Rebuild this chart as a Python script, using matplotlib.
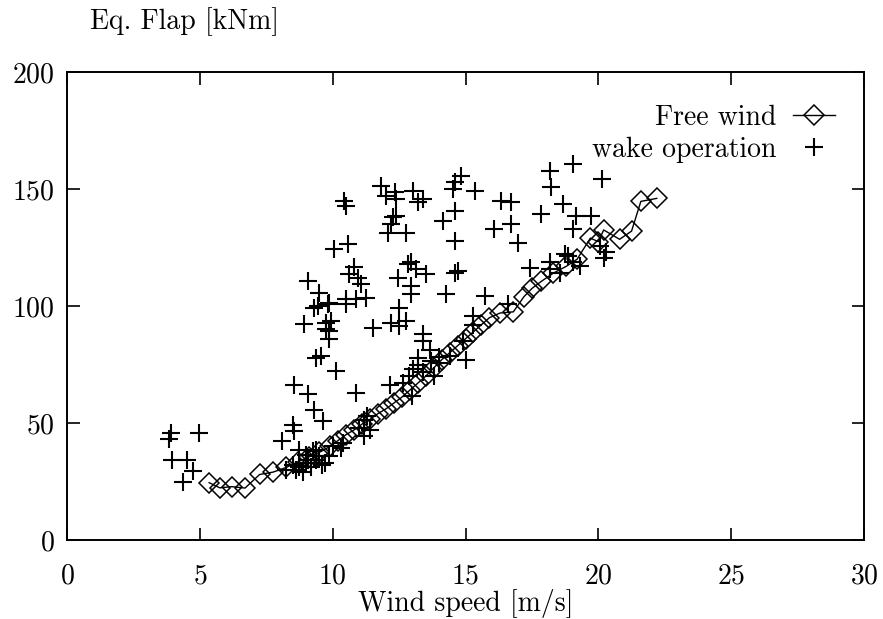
import matplotlib
matplotlib.use('Agg')
import matplotlib.pyplot as plt

plt.rcParams['font.family'] = ['cmr10', 'DejaVu Serif']
plt.rcParams['mathtext.fontset'] = 'cm'
plt.rcParams['axes.formatter.use_mathtext'] = True

# free wind curve
free_x = [5.35, 5.75, 6.2, 6.7, 7.25, 7.75, 8.25, 8.7, 9.1, 9.5, 9.9, 10.2,
          10.5, 10.8, 11.1, 11.4, 11.7, 12.0, 12.3, 12.6, 12.9, 13.2, 13.5,
          13.8, 14.1, 14.4, 14.7, 15.0, 15.3, 15.6, 15.9, 16.3, 16.8, 17.2,
          17.5, 17.85, 18.3, 18.8, 19.2, 19.7, 20.0, 20.2, 20.8, 21.25, 21.6, 22.2]
free_y = [24.5, 22.3, 22.8, 22.2, 28, 29, 31, 33.5, 35.5, 37.5, 40, 42.5,
          45, 47, 49.5, 51.5, 54, 56, 58.5, 61, 64, 67, 70,
          73.5, 77, 80, 83, 86, 89, 92, 95, 97, 97.5, 104,
          107.5, 110.5, 114, 117, 120, 129, 127.5, 132.5, 128.5, 132, 144.7, 146]

# wake operation points
wake_x = [3.9, 3.84, 4.98, 3.97, 4.53, 4.75, 4.35,
          8.11, 8.24, 8.49, 8.62, 8.74, 8.74, 9.0, 9.06, 9.0, 9.25, 9.37, 9.37,
          9.5, 9.88, 9.7, 10.0, 10.3, 10.38, 8.49, 8.56, 9.62, 9.31, 9.06, 8.56,
          8.9, 9.2, 9.6,
          9.06, 9.5, 9.43, 9.31, 9.81, 9.88, 10.5, 10.5, 10.88, 11.26, 8.93,
          9.75, 9.94, 9.75, 9.88, 9.88, 9.37, 9.56, 10.13, 10.06, 10.57, 10.44,
          10.5, 10.82, 10.63, 10.94, 11.07, 10.88,
          11.5, 12.2, 12.5, 12.77, 12.5, 12.45, 12.83, 12.95, 13.14, 13.52, 12.95,
          12.95, 14.27, 14.59, 14.71, 13.39, 13.39, 13.2, 13.7, 13.83, 12.14,
          13.0, 12.64, 12.89, 13.01, 13.65, 14.02, 14.4, 15.03,
          11.82, 12.01, 12.33, 12.39, 13.01, 13.39, 13.2, 14.84, 14.59, 14.52,
          15.34, 12.26, 12.39, 12.2, 12.07, 12.77, 14.59, 14.15, 14.59, 16.35,
          16.72, 16.09, 16.72, 16.97, 18.17, 19.05, 18.23, 20.12, 17.85, 18.67,
          19.17, 19.74, 19.05, 17.41, 15.72, 15.28, 16.6,
          11.19, 11.19, 11.0, 11.4, 11.3, 13.2, 13.4, 14.0, 14.9, 15.3,
          18.17, 18.54, 19.05, 19.3, 18.86, 18.17, 18.73, 20.05, 20.3, 20.2]
wake_y = [45.7, 43.2, 45.7, 34.3, 34.3, 29.3, 25,
          42.5, 30, 32.1, 30, 38.6, 31.4, 36.4, 34.3, 32.9, 37.9, 34.3, 38.6,
          35.7, 35.7, 33, 40, 39.3, 41.4, 49.3, 46.4, 50.7, 55.7, 62.5, 66.4,
          29, 31, 32,
          110.7, 105.7, 100, 99.3, 100.7, 101.4, 100.7, 102.9, 102.9, 103.6, 92.1,
          92.9, 93.6, 90, 89.3, 85.7, 77.9, 78.6, 72.1, 124.3, 126.4, 145,
          142.9, 116.8, 113.6, 112.1, 109.3, 62.9,
          90.7, 92.9, 91.4, 93.6, 99.3, 112.1, 117.9, 118.6, 115.7, 113.6, 108.6,
          105, 105, 114.3, 115, 87.9, 85, 77.9, 76.4, 70, 66.4,
          61.4, 67.1, 70, 72.9, 81.4, 75.7, 78.6, 77.1,
          151.4, 147.1, 148.6, 145.7, 149.3, 145.7, 144.3, 155.7, 152.9, 150,
          149.3, 137.9, 138.6, 135, 131.4, 131.4, 140.7, 136.4, 127.9, 145,
          144.3, 132.9, 135, 127.1, 157.9, 160.7, 150.7, 154.3, 139.3, 143.6,
          138.6, 138.6, 132.9, 116.4, 104.3, 95.7, 100.7,
          51.4, 44.3, 48, 47, 53, 75, 72, 78, 85, 92,
          118.6, 114.3, 118.6, 117.1, 121.4, 115.7, 122.1, 125.7, 122.9, 120.5]

x_ticks = [0, 5, 10, 15, 20, 25, 30]
y_ticks = [0, 50, 100, 150, 200]

fig = plt.figure(figsize=(8.83, 6.19), dpi=100)
ax = fig.add_axes([0.0759, 0.1276, 0.9026, 0.7561])

ax.plot(free_x, free_y, color='black', lw=1.0, marker='D', ms=10,
        mfc='none', mec='black', mew=1.1, label='Free wind')
ax.plot(wake_x, wake_y, ls='none', marker='+', ms=13, mew=1.5,
        color='black', label='wake operation')

ax.set_xlim(0, 30)
ax.set_ylim(0, 200)
ax.set_xticks(x_ticks)
ax.set_yticks(y_ticks)
ax.tick_params(direction='in', length=9, width=1.2, top=True, right=True,
               labelsize=20)
ax.tick_params(axis='x', pad=17)
ax.tick_params(axis='y', pad=9)
for sp in ax.spines.values():
    sp.set_linewidth(1.4)

ax.set_xlabel('Wind speed [m/s]', fontsize=20, labelpad=-1)
fig.text(0.102, 0.9645, 'Eq. Flap [kNm]', fontsize=20, va='center', ha='left')

ax.legend(loc='upper right', bbox_to_anchor=(0.9636, 0.93), frameon=False,
          markerfirst=False, fontsize=20, handlelength=1.5,
          handletextpad=0.6, labelspacing=0.2, borderaxespad=0,
          borderpad=0)

fig.savefig('out.png', dpi=100)
